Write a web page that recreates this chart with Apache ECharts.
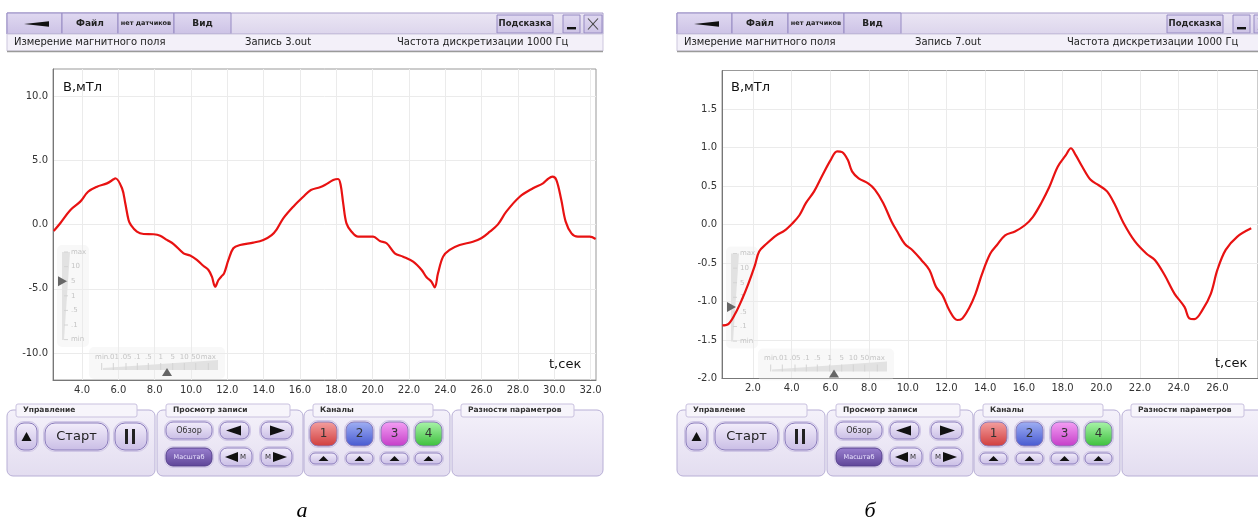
<!DOCTYPE html>
<html><head><meta charset="utf-8">
<script src="https://cdn.jsdelivr.net/npm/echarts@6/dist/echarts.min.js"></script>
<style>html,body{margin:0;padding:0;background:#fff}#c{width:1258px;height:525px}</style>
</head><body><div id="c"></div>
<script>
// ---------- DATA ----------
const tA = [2.44,2.8,3.36,3.9,4.33,4.82,5.37,5.74,5.83,6.2,6.38,6.56,6.69,7.02,7.39,7.94,8.3,8.67,9.04,9.59,9.95,10.32,10.69,10.96,11.15,11.33,11.51,11.66,11.82,12.06,12.33,12.7,13.43,13.98,14.44,14.72,15.08,15.63,16.18,16.6,17.1,17.37,17.83,18.1,18.24,18.38,18.56,18.84,19.2,20.03,20.4,20.77,21.22,21.68,22.23,22.7,22.97,23.24,23.42,23.6,23.88,24.24,24.79,25.52,25.98,26.45,26.9,27.36,28.1,28.83,29.38,29.65,29.9,30.12,30.39,30.63,30.95,31.3,31.95,32.28];
const bA = [-0.5,0.1,1.13,1.78,2.55,2.94,3.2,3.52,3.6,2.82,1.65,0.35,-0.04,-0.56,-0.74,-0.76,-0.87,-1.2,-1.52,-2.24,-2.42,-2.76,-3.23,-3.54,-4.06,-4.84,-4.32,-4.06,-3.8,-2.76,-1.85,-1.6,-1.41,-1.2,-0.82,-0.37,0.48,1.39,2.16,2.68,2.9,3.07,3.46,3.54,3.07,1.65,0.09,-0.56,-0.95,-0.95,-1.28,-1.46,-2.24,-2.5,-2.89,-3.54,-4.11,-4.45,-4.89,-3.8,-2.5,-1.98,-1.6,-1.34,-1.07,-0.56,0.01,1.0,2.16,2.82,3.2,3.54,3.72,3.46,1.9,0.22,-0.69,-0.95,-0.95,-1.13];
const tB = [0.42,0.74,1.08,1.42,1.76,2.1,2.32,2.7,3.21,3.63,4.06,4.4,4.74,5.16,5.59,6.02,6.35,6.61,6.9,7.12,7.46,7.97,8.31,8.73,9.16,9.5,9.84,10.27,10.7,11.12,11.46,11.8,12.14,12.56,12.82,13.16,13.5,13.84,14.26,14.6,15.03,15.54,16.05,16.47,16.9,17.32,17.75,18.17,18.43,18.68,19.02,19.45,19.87,20.3,20.72,21.15,21.74,22.34,22.77,23.28,23.79,24.3,24.55,24.81,25.23,25.66,26.0,26.43,27.02,27.75];
const bB = [-1.31,-1.29,-1.16,-0.98,-0.77,-0.53,-0.35,-0.25,-0.14,-0.08,0.02,0.12,0.28,0.43,0.64,0.84,0.95,0.94,0.84,0.69,0.6,0.53,0.45,0.28,0.04,-0.11,-0.25,-0.34,-0.46,-0.59,-0.81,-0.92,-1.11,-1.24,-1.22,-1.09,-0.9,-0.64,-0.38,-0.27,-0.14,-0.09,-0.01,0.1,0.28,0.49,0.75,0.9,0.99,0.9,0.75,0.58,0.51,0.43,0.25,0.02,-0.22,-0.38,-0.46,-0.66,-0.9,-1.07,-1.22,-1.23,-1.11,-0.9,-0.59,-0.33,-0.16,-0.05];
const xTicksA = [4,6,8,10,12,14,16,18,20,22,24,26,28,30,32];
const yTicksA = [-10,-5,0,5,10];
const xTicksB = [2,4,6,8,10,12,14,16,18,20,22,24,26];
const yTicksB = [-2,-1.5,-1,-0.5,0,0.5,1,1.5];
const recordA = 'Запись 3.out';
const recordB = 'Запись 7.out';
const vScaleLabels = ['max','10','5','1','.5','.1','min'];
const hScaleLabels = ['min','.01','.05','.1','.5','1','5','10','50','max'];
const channels = ['1','2','3','4'];

// ---------- helpers ----------
const F = 'DejaVu Sans';
function grad(c1,c2){return {type:'linear',x:0,y:0,x2:0,y2:1,colorStops:[{offset:0,color:c1},{offset:1,color:c2}]};}
function R(x,y,w,h,fill,stroke,r,z){return {type:'rect',silent:true,z:z||20,shape:{x:x,y:y,width:w,height:h,r:r||0},style:{fill:fill,stroke:stroke||null,lineWidth:1}};}
function T(x,y,s,size,color,align,weight,z,fam,fstyle){return {type:'text',silent:true,z:z||22,style:{x:x,y:y,text:s,font:(fstyle||'normal')+' '+(weight||'normal')+' '+size+'px "'+(fam||F)+'"',fill:color||'#222',align:align||'left',verticalAlign:'middle'}};}
function P(pts,fill,z){return {type:'polygon',silent:true,z:z||22,shape:{points:pts},style:{fill:fill}};}
function L(x1,y1,x2,y2,stroke,w,z){return {type:'line',silent:true,z:z||22,shape:{x1:x1,y1:y1,x2:x2,y2:y2},style:{stroke:stroke,lineWidth:w||1}};}
function pill(g,x,y,w,h,r,fill,stroke){g.push(R(x-1.5,y-1.5,w+3,h+3,'#e6e0f2','#d0c7e6',r+1.5,20));g.push(R(x,y,w,h,fill||grad('#f3eefb','#c9bde5'),stroke||'#8b7cbc',r,21));}

function buildUI(ox, recName){
  const g=[];
  const btnFill = grad('#e0d9f1','#ccc2e5'), btnStroke='#968ac3';
  g.push(R(ox,13,596,21,grad('#ebe6f4','#dcd5ec'),'#a99fcb'));
  [[0,55,''],[55,56,'Файл'],[111,56,'нет датчиков'],[167,57,'Вид']].forEach(b=>{
    g.push(R(ox+b[0],13,b[1],21,btnFill,btnStroke));
    if(b[2]) g.push(T(ox+b[0]+b[1]/2,23.5,b[2],b[2].length>5?6.5:9,'#222','center','bold'));
  });
  g.push(P([[ox+17,24],[ox+42,21.3],[ox+42,26.7]],'#111'));
  g.push(R(ox+490,15,56,18,btnFill,btnStroke));
  g.push(T(ox+518,24,'Подсказка',8.5,'#222','center','bold'));
  g.push(R(ox+556,15,17,18,btnFill,btnStroke)); g.push(R(ox+560,27,9,2.4,'#111',null,0,22));
  g.push(R(ox+577,15,18,18,btnFill,btnStroke));
  g.push(L(ox+581,18.5,ox+591,29.5,'#444',1.1)); g.push(L(ox+591,18.5,ox+581,29.5,'#444',1.1));
  g.push(R(ox,34,596,17,'#f3f0f9','#cdc7de'));
  g.push(L(ox,51.5,ox+596,51.5,'#9a9a9a',1.5));
  g.push(T(ox+7,42.5,'Измерение магнитного поля',10,'#222'));
  g.push(T(ox+238,42.5,recName,10,'#222'));
  g.push(T(ox+390,42.5,'Частота дискретизации 1000 Гц',10,'#222'));
  // bottom panels
  [[0,148,'Управление',121],[150,146,'Просмотр записи',124],[297,146,'Каналы',120],[445,151,'Разности параметров',113]].forEach(p=>{
    g.push(R(ox+p[0],410,p[1],66,grad('#f4f1fa','#e3ddf0'),'#b8afd6',6,18));
    g.push(R(ox+p[0]+9,404,p[3],13,'#f7f5fb','#c9c1df',2,19));
    g.push(T(ox+p[0]+16,410.5,p[2],7.5,'#333','left','bold',20));
  });
  // Управление
  pill(g,ox+9,423,21,27,8); g.push(P([[ox+14.5,441],[ox+24.5,441],[ox+19.5,432]],'#111',23));
  pill(g,ox+38,423,63,27,10); g.push(T(ox+69.5,436.5,'Старт',13,'#222','center','normal',23));
  pill(g,ox+108,423,32,27,10); g.push(R(ox+118,429,3,15,'#222',null,0,23)); g.push(R(ox+125,429,3,15,'#222',null,0,23));
  // Просмотр записи
  pill(g,ox+159,422,46,17,7); g.push(T(ox+182,430.5,'Обзор',8,'#333','center','normal',23));
  pill(g,ox+213,422,29,17,7); g.push(P([[ox+219,430.5],[ox+234,425.5],[ox+234,435.5]],'#111',23));
  pill(g,ox+254,422,31,17,7); g.push(P([[ox+278,430.5],[ox+263,425.5],[ox+263,435.5]],'#111',23));
  pill(g,ox+159,448,46,18,7,grad('#9a80d0','#5e4597'),'#553f8c'); g.push(T(ox+182,457,'Масштаб',6.5,'#e9e2ff','center','normal',23));
  pill(g,ox+213,448,32,18,7); g.push(P([[ox+218,457],[ox+231,452],[ox+231,462]],'#111',23)); g.push(T(ox+236,457,'M',7,'#333','center','normal',23));
  pill(g,ox+254,448,31,18,7); g.push(T(ox+261,457,'M',7,'#333','center','normal',23)); g.push(P([[ox+280,457],[ox+266,452],[ox+266,462]],'#111',23));
  // Каналы
  const chFill=[grad('#f4a0a0','#d03c3c'),grad('#a0b0f4','#4658d0'),grad('#f4a0f4','#c43cc8'),grad('#aaf4aa','#3cbf3c')];
  const chX=[303,339,374,408];
  channels.forEach((c,i)=>{
    pill(g,ox+chX[i],422,27,24,8,chFill[i],'#8a7cb8');
    g.push(T(ox+chX[i]+13.5,434,c,12,'#333','center','normal',23));
    pill(g,ox+chX[i],453,27,11,5);
    const cx=ox+chX[i]+13.5; g.push(P([[cx-5,461],[cx+5,461],[cx,456]],'#111',23));
  });
  return g;
}
function buildSliders(px,py,vIdx,vDy,hRel){
  const g=[];
  g.push(R(px+4,py+176,32,102,'rgba(236,236,236,0.35)',null,5,1));
  g.push(P([[px+9,py+183],[px+17,py+183],[px+11,py+271],[px+9,py+271]],'#e2e2e2',1));
  vScaleLabels.forEach((s,i)=>{const y=py+183+i*14.6; g.push(L(px+11,y,px+15,y,'#d4d4d4',1,1)); g.push(T(px+18,y,s,7,'#c4c4c4','left','normal',1));});
  const ty=py+183+vIdx*14.6+vDy;
  g.push(P([[px+5,ty-5],[px+14,ty],[px+5,ty+5]],'#666',2));
  g.push(R(px+36,py+278,136,32,'rgba(236,236,236,0.35)',null,5,1));
  g.push(P([[px+50,py+301],[px+165,py+301],[px+165,py+291],[px+50,py+299]],'#e2e2e2',1));
  const hPos=[48.7,60.3,73,84.3,95.3,107.7,119.7,131.3,142.7,155.3];
  hScaleLabels.forEach((s,i)=>{const x=px+hPos[i]; g.push(T(x,py+288,s,7,'#c4c4c4','center','normal',1)); g.push(L(x,py+294,x,py+301,'#d4d4d4',1,1));});
  const hx=px+hRel;
  g.push(P([[hx-5,py+307],[hx+5,py+307],[hx,py+299]],'#666',2));
  return g;
}

const GA={left:53,top:69,width:543,height:311};
const GB={left:722,top:70.5,width:543,height:308};

let graphics=[].concat(buildUI(7,recordA),buildUI(677,recordB),
  buildSliders(GA.left,GA.top,2,0,114),buildSliders(GB.left,GB.top,4,-5,112));
graphics.push(T(63,88,'В,мТл',13,'#111','left','normal',3));
graphics.push(T(731,88,'В,мТл',13,'#111','left','normal',3));
graphics.push(T(549,365,'t,сек',13,'#111','left','normal',3));
graphics.push(T(1215,364,'t,сек',13,'#111','left','normal',3));
graphics.push(T(302,511,'а',22,'#000','center','normal',3,'Liberation Serif','italic'));
graphics.push(T(870,511,'б',22,'#000','center','normal',3,'Liberation Serif','italic'));

function axisCfg(idx,min,max,ticks){return {gridIndex:idx,type:'value',min:min,max:max,
  axisLine:{show:true,onZero:false,lineStyle:{color:'#777',width:1}},
  axisTick:{show:false,customValues:ticks},
  axisLabel:{customValues:ticks,formatter:v=>v.toFixed(1),color:'#333',fontSize:10,fontFamily:F,margin:5},
  splitLine:{show:true,lineStyle:{color:'#ebebeb',width:1}}};}

const chart=echarts.init(document.getElementById('c'),null,{renderer:'canvas'});
chart.setOption({
  animation:false,
  backgroundColor:'#fff',
  grid:[Object.assign({show:true,borderColor:'#999',borderWidth:1,backgroundColor:'#fff'},GA),
        Object.assign({show:true,borderColor:'#999',borderWidth:1,backgroundColor:'#fff'},GB)],
  xAxis:[axisCfg(0,2.4,32.3,xTicksA),axisCfg(1,0.4,28.1,xTicksB)],
  yAxis:[axisCfg(0,-12.1,12.1,yTicksA),axisCfg(1,-2,2,yTicksB)],
  series:[
    {type:'line',xAxisIndex:0,yAxisIndex:0,data:tA.map((t,i)=>[t,bA[i]]),showSymbol:false,smooth:0.35,lineStyle:{color:'#e81212',width:2.2},z:5},
    {type:'line',xAxisIndex:1,yAxisIndex:1,data:tB.map((t,i)=>[t,bB[i]]),showSymbol:false,smooth:0.35,lineStyle:{color:'#e81212',width:2.2},z:5}
  ],
  graphic:{elements:graphics}
});
</script></body></html>
